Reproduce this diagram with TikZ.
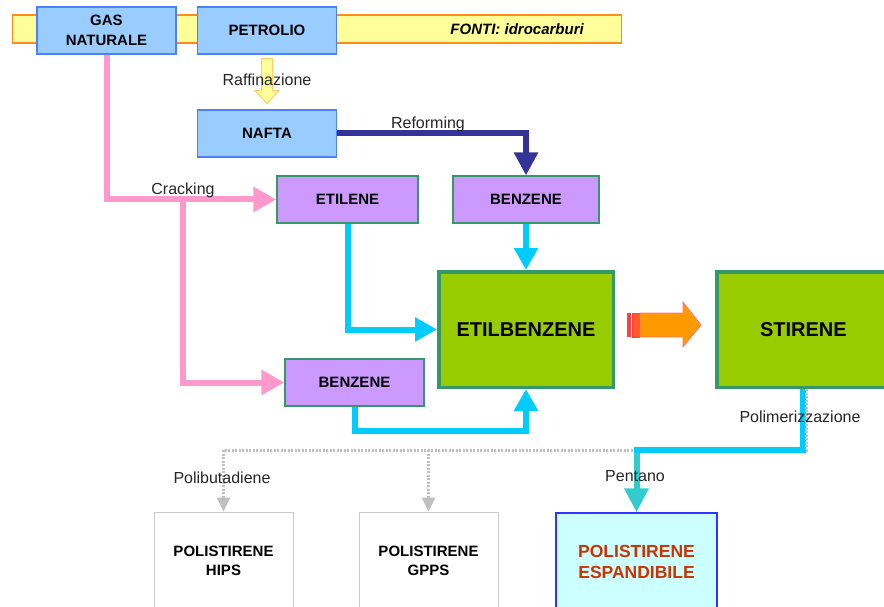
\documentclass[tikz,border=0pt]{standalone}
\usepackage{fontspec}
\setmainfont{Liberation Sans}
\usetikzlibrary{arrows.meta,calc}
\pgfdeclarelayer{back}
\pgfdeclarelayer{bg}
\pgfsetlayers{back,bg,main}
\definecolor{cBandF}{HTML}{FFFF99}
\definecolor{cBandD}{HTML}{FF8C1A}
\definecolor{cBlueF}{HTML}{99CCFF}
\definecolor{cBlueD}{HTML}{4D7FFF}
\definecolor{cPurF}{HTML}{CC99FF}
\definecolor{cGrnD}{HTML}{339966}
\definecolor{cGreen}{HTML}{99CC00}
\definecolor{cPink}{HTML}{FF99CC}
\definecolor{cCyan}{HTML}{00CCFF}
\definecolor{cNavy}{HTML}{333399}
\definecolor{cTeal}{HTML}{33CCCC}
\definecolor{cEspF}{HTML}{CCFFFF}
\definecolor{cEspD}{HTML}{3333FF}
\definecolor{cEspT}{HTML}{CC3300}
\definecolor{cLGray}{HTML}{CCCCCC}
\definecolor{cDot}{HTML}{C0C0C0}
\definecolor{cOrange}{HTML}{FF9900}
\definecolor{cRed}{HTML}{FF4040}
\definecolor{cYelD}{HTML}{FFCC66}
\begin{document}
\begin{tikzpicture}[x=1pt,y=-1pt,
  box/.style={draw, line width=1.2pt, inner sep=0pt, align=center,
    font=\fontsize{15}{20}\selectfont\bfseries, text=black},
  bluebox/.style={box, fill=cBlueF, draw=cBlueD, minimum width=139pt, minimum height=47pt},
  purbox/.style={box, fill=cPurF, draw=cGrnD, minimum height=47pt},
  bigbox/.style={box, fill=cGreen, draw=cGrnD, line width=3.5pt, minimum height=115.5pt,
    font=\fontsize{20}{24}\selectfont\bfseries},
  prodbox/.style={box, draw=cLGray, line width=1pt, fill=white, minimum width=139pt,
    minimum height=98pt, font=\fontsize{15}{19}\selectfont\bfseries},
  lbl/.style={font=\fontsize{16}{19}\selectfont, text=black!85, inner sep=0pt},
  conn/.style={line width=6pt},
  pinkarr/.style={conn, draw=cPink, -{Triangle[length=23pt,width=24pt]}},
  cyanarr/.style={conn, draw=cCyan, -{Triangle[length=22pt,width=23pt]}},
  navyarr/.style={conn, draw=cNavy, -{Triangle[length=23pt,width=23pt]}},
  tealarr/.style={conn, draw=cTeal, -{Triangle[length=24pt,width=23pt]}},
  graydot/.style={draw=cDot, line width=3pt, dash pattern=on 2pt off 1.5pt},
  grayarr/.style={graydot, -{Triangle[length=14pt,width=13pt]}},
]
\useasboundingbox (0,0) rectangle (884,607);
\begin{pgfonlayer}{back}
\fill[white] (0,0) rectangle (884,607);
\end{pgfonlayer}
\clip (0,0) rectangle (884,607);

% band
\node[draw=cBandD, fill=cBandF, line width=1.5pt, minimum width=609pt, minimum height=28pt,
  inner sep=0pt] (band) at (317,29) {};
\node[font=\fontsize{15}{18}\selectfont\bfseries\itshape, anchor=east, inner sep=0pt] (fonti)
  at (584,29) {FONTI: idrocarburi};

% source boxes
\node[bluebox] (gas) at (106.5,30.5) {GAS\\NATURALE};
\node[bluebox] (petrolio) at (267,30.5) {PETROLIO};
\node[bluebox] (nafta) at (267,133.5) {NAFTA};

% purple boxes
\node[purbox, minimum width=141pt] (etilene) at (347.5,199.5) {ETILENE};
\node[purbox, minimum width=146pt] (benzA) at (526,199.5) {BENZENE};
\node[purbox, minimum width=139pt] (benzB) at (354.5,382.5) {BENZENE};

% big boxes
\node[bigbox, minimum width=174.5pt] (eb) at (526,329.5) {ETILBENZENE};
\node[bigbox, minimum width=173.25pt] (stirene) at (803.4,329.5) {STIRENE};

% product boxes
\node[prodbox] (hips) at (223.5,561) {POLISTIRENE\\HIPS};
\node[prodbox] (gpps) at (428.5,561) {POLISTIRENE\\GPPS};
\node[prodbox, fill=cEspF, draw=cEspD, line width=1.2pt, minimum width=161pt, text=cEspT,
  font=\fontsize{17.5}{21}\selectfont\bfseries] (esp) at (636.5,562) {POLISTIRENE\\ESPANDIBILE};

% helper coordinates
\coordinate (crk) at (183,199.5);
\coordinate (lvl) at (0,431);
\coordinate (lvl2) at (0,450);

\begin{pgfonlayer}{bg}
% gray dotted connectors
\draw[graydot] ([xshift=3pt]stirene.south) |- (hips.north |- lvl2);
\draw[grayarr] (hips.north |- lvl2) -- (hips.north);
\draw[grayarr] (gpps.north |- lvl2) -- (gpps.north);
% pink
\draw[pinkarr] (gas.south) |- (etilene.west);
\draw[pinkarr] (crk) |- (benzB.west);
% navy
\draw[navyarr] (nafta.east) -| (benzA.north);
% cyan
\draw[cyanarr] (etilene.south) |- (eb.west);
\draw[cyanarr] (benzA.south) -- (eb.north);
\draw[cyanarr] (benzB.south) -- (benzB.south |- lvl) -| (eb.south);
% polimerizzazione
\draw[tealarr] (esp.north |- lvl2) -- (esp.north);
\draw[conn, draw=cCyan, line cap=rect] (stirene.south) |- (esp.north |- lvl2);
\draw[graydot] ([xshift=3pt]stirene.south) -- ([xshift=3pt]stirene.south |- lvl2);
\end{pgfonlayer}

% raffinazione block arrow
\begin{scope}[shift={(petrolio.south)}]
\draw[fill=cBandF, draw=cYelD, line width=1pt]
  (-5.5,4) -- (5.5,4) -- (5.5,36) -- (12,36) -- (0,49) -- (-12,36) -- (-5.5,36) -- cycle;
\end{scope}

% orange block arrow
\fill[cRed] (627,313) rectangle (631,337);
\draw[cRed, fill=cRed!70!cOrange, line width=0.8pt] (632.5,313) rectangle (639,337);
\draw[cRed!70, fill=cOrange, line width=0.8pt]
  (640,313) -- (683,313) -- (683,302) -- (701,325) -- (683,347) -- (683,337) -- (640,337) -- cycle;

% labels
\node[lbl] (lraf) at (267,80) {Raffinazione};
\node[lbl] (lref) at (428,124) {Reforming};
\node[lbl] (lcrk) at (183,190) {Cracking};
\node[lbl] (lpol) at (800,417) {Polimerizzazione};
\node[lbl] (lpoli) at (222,478) {Polibutadiene};
\node[lbl] (lpen) at (635,476) {Pentano};
\end{tikzpicture}
\end{document}
